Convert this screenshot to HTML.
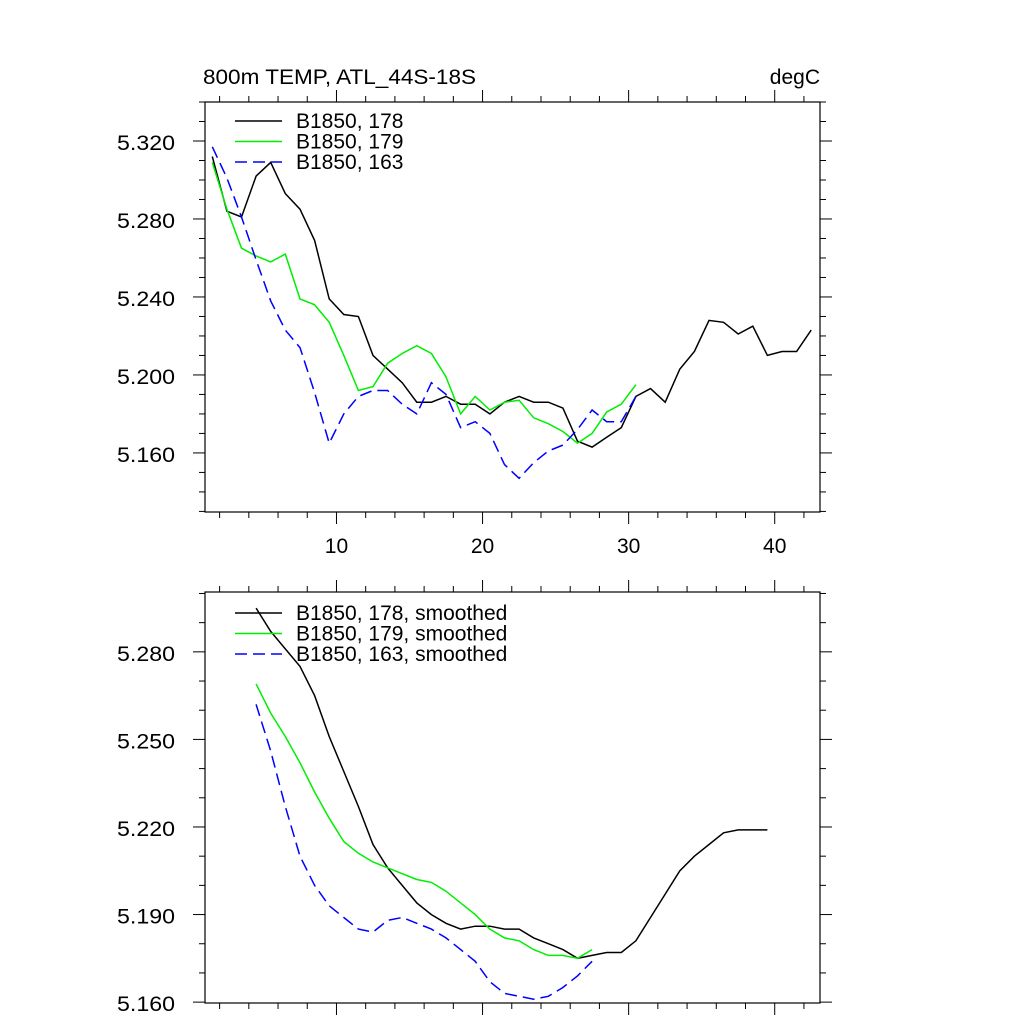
<!DOCTYPE html>
<html><head><meta charset="utf-8"><style>
html,body{margin:0;padding:0;background:#fff;}
svg{display:block;font-family:"Liberation Sans",sans-serif;}
</style></head><body>
<svg id="chart" width="1024" height="1024" xmlns="http://www.w3.org/2000/svg">
<g id="top"></g>
<g id="bot"></g>
</svg>
<script>
const topBlack=[5.312,5.284,5.281,5.302,5.309,5.293,5.285,5.269,5.239,5.231,5.230,5.210,5.203,5.196,5.186,5.186,5.189,5.185,5.185,5.180,5.186,5.189,5.186,5.186,5.183,5.166,5.163,5.168,5.173,5.189,5.193,5.186,5.203,5.212,5.228,5.227,5.221,5.225,5.210,5.212,5.212,5.223];
const topGreen=[5.309,5.285,5.265,5.261,5.258,5.262,5.239,5.236,5.227,5.210,5.192,5.194,5.206,5.211,5.215,5.211,5.199,5.180,5.189,5.182,5.186,5.187,5.178,5.175,5.171,5.165,5.170,5.181,5.185,5.195];
const topBlue=[5.317,5.301,5.281,5.259,5.238,5.223,5.214,5.191,5.165,5.180,5.189,5.192,5.192,5.185,5.180,5.196,5.190,5.173,5.176,5.170,5.154,5.147,5.155,5.161,5.164,5.172,5.182,5.176,5.176,5.189];
const smBlack=[5.295,5.287,5.281,5.275,5.265,5.251,5.239,5.227,5.214,5.206,5.200,5.194,5.190,5.187,5.185,5.186,5.186,5.185,5.185,5.182,5.180,5.178,5.175,5.176,5.177,5.177,5.181,5.189,5.197,5.205,5.210,5.214,5.218,5.219,5.219,5.219];
const smGreen=[5.269,5.259,5.251,5.242,5.232,5.223,5.215,5.211,5.208,5.206,5.204,5.202,5.201,5.198,5.194,5.190,5.185,5.182,5.181,5.178,5.176,5.176,5.175,5.178];
const smBlue=[5.262,5.246,5.227,5.210,5.200,5.193,5.189,5.185,5.184,5.188,5.189,5.187,5.185,5.182,5.178,5.174,5.167,5.163,5.162,5.161,5.162,5.165,5.169,5.174];
const xStart=1.5, smStart=4.5;
const xTickLabels=[10,20,30,40];
const topYTicks=[5.160,5.200,5.240,5.280,5.320];
const botYTicks=[5.160,5.190,5.220,5.250,5.280];

const NS="http://www.w3.org/2000/svg";
const L=205,R=820;
const xMin=1,xMax=43.1;
function X(v){return L+(v-xMin)/(xMax-xMin)*(R-L);}
function mk(p,tag,attrs){const e=document.createElementNS(NS,tag);for(const k in attrs)e.setAttribute(k,attrs[k]);p.appendChild(e);return e;}

function panel(g,T,B,yMin,yMax,yTicks,minorStep,series,legend,legY,showX){
  const Y=v=>B-(v-yMin)/(yMax-yMin)*(B-T);
  const f=mk(g,'rect',{x:L,y:T,width:R-L,height:B-T,fill:'none',stroke:'#000','stroke-width':1.2});
  
  
  const n0=Math.ceil(yMin/minorStep-1e-6),n1=Math.floor(yMax/minorStep+1e-6);
  for(let i=n0;i<=n1;i++){
    const v=i*minorStep,y=Y(v);
    const major=yTicks.some(t=>Math.abs(t-v)<1e-6);
    const len=major?12:6;
    const t1=mk(g,'line',{x1:L-len,x2:L,y1:y,y2:y,stroke:'#000','stroke-width':1});
    
    
    const t2=mk(g,'line',{x1:R,x2:R+len,y1:y,y2:y,stroke:'#000','stroke-width':1});
    
    
  }
  yTicks.forEach(t=>{
    const tx=mk(g,'text',{x:117,y:Y(t)+9,'font-size':21,textLength:58,lengthAdjust:'spacingAndGlyphs'});
    tx.textContent=t.toFixed(3);
    
    
  });
  for(let v=2;v<=42;v+=2){
    const major=v%10===0,len=major?12:6,x=X(v);
    const a=mk(g,'line',{x1:x,x2:x,y1:B,y2:B+len,stroke:'#000','stroke-width':1});
    
    
    const b=mk(g,'line',{x1:x,x2:x,y1:T-len,y2:T,stroke:'#000','stroke-width':1});
    
    
  }
  if(showX){xTickLabels.forEach(v=>{
    const tx=mk(g,'text',{x:X(v),y:B+41,'text-anchor':'middle','font-size':21});
    tx.textContent=v;
    
    
  });}
  series.forEach((s,si)=>{
    const pts=s.data.map((v,i)=>X(s.start+i).toFixed(1)+','+Y(v).toFixed(1)).join(' ');
    const pl=mk(g,'polyline',{points:pts,fill:'none',stroke:s.color,'stroke-width':1.5,'stroke-dasharray':s.dash||'none'});
    
    
    const ly=legY+si*20.5;
    const ll=mk(g,'line',{x1:235,x2:282,y1:ly,y2:ly,stroke:s.color,'stroke-width':1.5,'stroke-dasharray':s.dash||'none'});
    
    
    const lt=mk(g,'text',{x:296,y:ly+7,'font-size':21});
    lt.textContent=legend[si];
    
    
  });
}
const topG=document.getElementById('top'),botG=document.getElementById('bot');
panel(topG,102,512,5.1297,5.34,topYTicks,0.01,[
 {data:topBlack,start:xStart,color:'#000',name:'series-178'},
 {data:topGreen,start:xStart,color:'#00ee00',name:'series-179'},
 {data:topBlue,start:xStart,color:'#0000ff',dash:'12,6',name:'series-163'}],
 ['B1850, 178','B1850, 179','B1850, 163'],121,true);
panel(botG,592,1003,5.1597,5.3005,botYTicks,0.01,[
 {data:smBlack,start:smStart,color:'#000',name:'series-178-smoothed'},
 {data:smGreen,start:smStart,color:'#00ee00',name:'series-179-smoothed'},
 {data:smBlue,start:smStart,color:'#0000ff',dash:'12,6',name:'series-163-smoothed'}],
 ['B1850, 178, smoothed','B1850, 179, smoothed','B1850, 163, smoothed'],613,false);
const t1=mk(topG,'text',{x:203,y:84,'font-size':21,textLength:273,lengthAdjust:'spacingAndGlyphs'});
t1.textContent='800m TEMP, ATL_44S-18S';


const t2=mk(topG,'text',{x:820,y:84,'font-size':21,'text-anchor':'end'});
t2.textContent='degC';


</script>
</body></html>
